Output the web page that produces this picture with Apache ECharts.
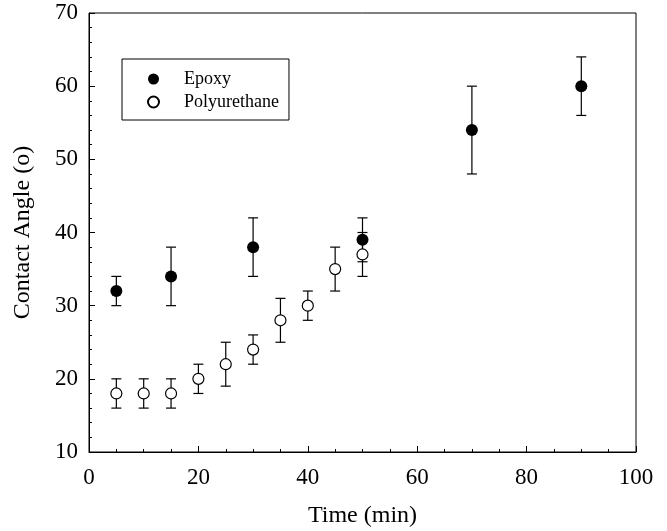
<!DOCTYPE html>
<html>
<head>
<meta charset="utf-8">
<script src="https://cdn.jsdelivr.net/npm/echarts@6/dist/echarts.min.js"></script>
<style>
  html, body { margin: 0; padding: 0; background: #fff; }
  #chart { width: 667px; height: 531px; }
</style>
</head>
<body>
<div id="chart"></div>
<script>
// time (min) and contact angle (deg)
const epoxyTime = [5, 15, 30, 50, 70, 90];
const epoxyAngle = [32, 34, 38, 39, 54, 60];
const epoxyLow = [30, 30, 34, 36, 48, 56];
const epoxyHigh = [34, 38, 42, 42, 60, 64];

const polyTime = [5, 10, 15, 20, 25, 30, 35, 40, 45, 50];
const polyAngle = [18, 18, 18, 20, 22, 24, 28, 30, 35, 37];
const polyLow = [16, 16, 16, 18, 19, 22, 25, 28, 32, 34];
const polyHigh = [20, 20, 20, 22, 25, 26, 31, 32, 38, 40];

const FONT = "'Liberation Serif', 'Times New Roman', serif";

const chart = echarts.init(document.getElementById("chart"));

// error bar: vertical line + caps
const renderErr = (params, api) => {
  const x = api.value(0);
  const lo = api.coord([x, api.value(1)]);
  const hi = api.coord([x, api.value(2)]);
  const hw = 5;
  const style = { stroke: "#000", lineWidth: 1.2 };
  return {
    type: "group",
    children: [
      { type: "line", shape: { x1: lo[0], y1: lo[1], x2: hi[0], y2: hi[1] }, style },
      { type: "line", shape: { x1: lo[0] - hw, y1: lo[1], x2: lo[0] + hw, y2: lo[1] }, style },
      { type: "line", shape: { x1: hi[0] - hw, y1: hi[1], x2: hi[0] + hw, y2: hi[1] }, style },
    ],
  };
};

const errData = (xs, lows, highs) => xs.map((x, i) => [x, lows[i], highs[i]]);
const ptData = (xs, ys) => xs.map((x, i) => [x, ys[i]]);

const option = {
  animation: false,
  textStyle: { fontFamily: FONT, color: "#000" },
  grid: {
    left: 89,
    right: 31,
    top: 13,
    bottom: 79,
    outerBoundsMode: "none",
    containLabel: false,
    show: true,
    borderColor: "#000",
    borderWidth: 1,
  },
  legend: {
    data: ["Epoxy", "Polyurethane"],
    orient: "vertical",
    left: 122,
    top: 59,
    borderColor: "#000",
    borderWidth: 1,
    padding: [11, 10, 9, 25],
    itemGap: 5,
    itemWidth: 11,
    itemHeight: 11,
    textStyle: { fontFamily: FONT, fontSize: 18, color: "#000", padding: [0, 0, 0, 20] },
  },
  xAxis: {
    type: "value",
    min: 0,
    max: 100,
    interval: 20,
    name: "Time (min)",
    nameLocation: "middle",
    nameGap: 52,
    nameTextStyle: { fontFamily: FONT, fontSize: 24, color: "#000" },
    axisLine: { show: true, lineStyle: { color: "#000", width: 1 } },
    axisTick: { show: true, inside: true, length: 6, lineStyle: { color: "#000" } },
    minorTick: { show: true, splitNumber: 4, length: 3, lineStyle: { color: "#000" } },
    splitLine: { show: false },
    axisLabel: { fontFamily: FONT, fontSize: 23, color: "#000", margin: 14 },
  },
  yAxis: {
    type: "value",
    min: 10,
    max: 70,
    interval: 10,
    name: "Contact Angle (o)",
    nameLocation: "middle",
    nameGap: 54,
    nameRotate: 90,
    nameTextStyle: { fontFamily: FONT, fontSize: 24, color: "#000" },
    axisLine: { show: true, lineStyle: { color: "#000", width: 1 } },
    axisTick: { show: true, inside: true, length: 6, lineStyle: { color: "#000" } },
    minorTick: { show: true, splitNumber: 5, length: 3, lineStyle: { color: "#000" } },
    splitLine: { show: false },
    axisLabel: { fontFamily: FONT, fontSize: 23, color: "#000", margin: 11 },
  },
  series: [
    {
      name: "epoxyErr",
      type: "custom",
      renderItem: renderErr,
      encode: { x: 0, y: [1, 2] },
      data: errData(epoxyTime, epoxyLow, epoxyHigh),
      z: 1,
    },
    {
      name: "polyErr",
      type: "custom",
      renderItem: renderErr,
      encode: { x: 0, y: [1, 2] },
      data: errData(polyTime, polyLow, polyHigh),
      z: 1,
    },
    {
      name: "Polyurethane",
      type: "scatter",
      symbol: "circle",
      symbolSize: 11,
      itemStyle: { color: "#fff", borderColor: "#000", borderWidth: 1.2, opacity: 1 },
      data: ptData(polyTime, polyAngle),
      z: 3,
    },
    {
      name: "Epoxy",
      type: "scatter",
      symbol: "circle",
      symbolSize: 12,
      itemStyle: { color: "#000", opacity: 1 },
      data: ptData(epoxyTime, epoxyAngle),
      z: 4,
    },
  ],
};

chart.setOption(option);
</script>
</body>
</html>
